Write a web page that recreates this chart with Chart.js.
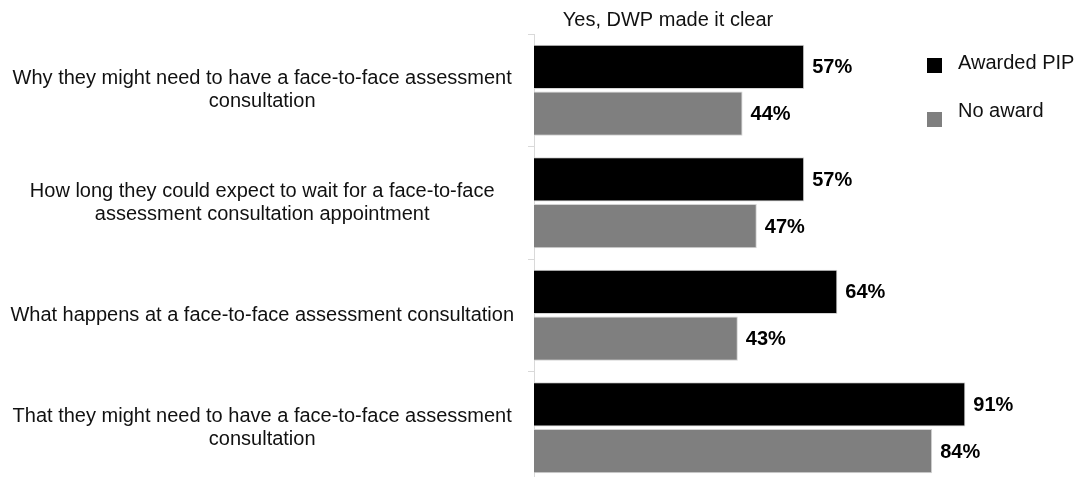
<!DOCTYPE html>
<html>
<head>
<meta charset="utf-8">
<script src="https://cdn.jsdelivr.net/npm/chart.js@4"></script>
<style>
    html, body { margin: 0; padding: 0; overflow: hidden; background: #fff; }
    #wrap { width: 1075px; height: 484px; }
</style>
</head>
<body>
<div id="wrap"><canvas id="myChart" width="1075" height="484"></canvas></div>
<script>
const categories = [
    ['Why they might need to have a face-to-face assessment', 'consultation'],
    ['How long they could expect to wait for a face-to-face', 'assessment consultation appointment'],
    ['What happens at a face-to-face assessment consultation'],
    ['That they might need to have a face-to-face assessment', 'consultation']
];
const awarded = [57, 57, 64, 91];
const noAward = [44, 47, 43, 84];
const seriesNames = ['Awarded PIP', 'No award'];
const chartTitle = 'Yes, DWP made it clear';

const FONT = "'Liberation Sans', Arial, sans-serif";

// percentage labels just past the end of each bar
const valueLabels = {
    id: 'valueLabels',
    afterDatasetsDraw(chart) {
        const ctx = chart.ctx;
        ctx.save();
        ctx.font = 'bold 20px ' + FONT;
        ctx.fillStyle = '#000';
        ctx.textAlign = 'left';
        ctx.textBaseline = 'middle';
        chart.data.datasets.forEach(function(ds, i) {
            chart.getDatasetMeta(i).data.forEach(function(bar, j) {
                ctx.fillText(ds.data[j] + '%', bar.x + 8, bar.y + 1);
            });
        });
        ctx.restore();
    }
};

// title over the bars and the legend block on the right
const extras = {
    id: 'extras',
    afterDraw(chart) {
        const ctx = chart.ctx;
        ctx.save();
        ctx.fillStyle = '#111';
        ctx.font = '20px ' + FONT;
        ctx.textAlign = 'center';
        ctx.textBaseline = 'middle';
        ctx.fillText(chartTitle, 668, 20);

        const rows = [{ sq: 58, txt: 63 }, { sq: 112, txt: 111 }];
        ctx.textAlign = 'left';
        chart.data.datasets.forEach(function(ds, i) {
            ctx.fillStyle = ds.backgroundColor;
            ctx.fillRect(927, rows[i].sq, 15, 15);
            ctx.fillStyle = '#111';
            ctx.fillText(ds.label, 958, rows[i].txt);
        });
        ctx.restore();
    }
};

new Chart(document.getElementById('myChart'), {
    type: 'bar',
    data: {
        labels: categories,
        datasets: [{
            label: seriesNames[0],
            data: awarded,
            backgroundColor: '#000000',
            borderColor: '#d4d4d4',
            borderWidth: 1,
            categoryPercentage: 0.83,
            barPercentage: 0.95
        }, {
            label: seriesNames[1],
            data: noAward,
            backgroundColor: '#7f7f7f',
            borderColor: '#d4d4d4',
            borderWidth: 1,
            categoryPercentage: 0.83,
            barPercentage: 0.95
        }]
    },
    options: {
        indexAxis: 'y',
        responsive: false,
        animation: false,
        devicePixelRatio: 1,
        layout: {
            padding: { top: 34, right: 67, bottom: 0, left: 0 }
        },
        plugins: {
            legend: { display: false },
            title: { display: false },
            tooltip: { enabled: false }
        },
        scales: {
            x: {
                display: false,
                min: 0,
                max: 100
            },
            y: {
                afterFit: function(axis) {
                    axis.width = 534;
                    axis.paddingTop = 0;
                    axis.paddingBottom = 0;
                },
                border: { color: '#d9d9d9', width: 1 },
                grid: {
                    offset: true,
                    drawOnChartArea: false,
                    tickLength: 6,
                    color: '#d9d9d9'
                },
                ticks: {
                    crossAlign: 'center',
                    padding: 14,
                    color: '#111',
                    font: { family: FONT, size: 20, lineHeight: 1.17 }
                }
            }
        }
    },
    plugins: [valueLabels, extras]
});
</script>
</body>
</html>
